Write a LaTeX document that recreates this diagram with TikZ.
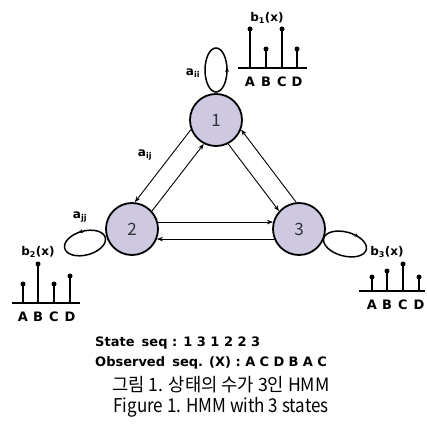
\documentclass[tikz,border=0pt]{standalone}
\usepackage{fontspec}
\setmainfont{DejaVu Sans}
\newfontfamily\kr{Noto Sans CJK KR}
\newfontfamily\lb{DejaVu Sans Bold}
\usetikzlibrary{arrows.meta,decorations.markings}
\definecolor{nodefill}{RGB}{206,200,224}
\definecolor{numcol}{RGB}{50,50,60}
\tikzset{
  state/.style={circle,draw,line width=1.8pt,fill=nodefill,minimum size=52pt,inner sep=0pt,font=\kr\fontsize{17}{17}\selectfont,text=numcol},
  edge/.style={line width=0.9pt,-{Stealth[length=6pt,width=4.5pt]}},
  loopline/.style={line width=1.5pt},
  lab/.style={font=\lb\fontsize{12}{12}\selectfont,inner sep=0pt},
  barlab/.style={font=\lb\fontsize{13}{13}\selectfont,inner sep=0pt},
  stem/.style={line width=1.1pt},
  base/.style={line width=1.3pt},
  dot/.style={circle,fill=black,inner sep=0pt,minimum size=5pt},
  seqtxt/.style={font=\lb\fontsize{13}{14}\selectfont,inner sep=0pt,anchor=west},
  captxt/.style={font=\kr\fontsize{17}{17}\selectfont,inner sep=0pt}
}
\begin{document}
\begin{tikzpicture}[x=1pt,y=-1pt]
\useasboundingbox (0,0) rectangle (426,427);
% states
\node[state] (n1) at (216,120) {1};
\node[state] (n2) at (132,229) {2};
\node[state] (n3) at (299,229) {3};
% transitions
\draw[edge] (n1.201) -- (n2.84);
\draw[edge] (n2.42) -- (n1.243);
\draw[edge] (n1.297) -- (n3.138);
\draw[edge] (n3.96) -- (n1.339);
\draw[edge] (n2.15) -- (n3.165);
\draw[edge] (n3.202) -- (n2.338);
% self loops
\draw[loopline,decoration={markings,mark=at position 0.02 with {\arrow{Stealth[length=4pt,width=4pt]}}},postaction={decorate}]
  (216,70) ellipse [x radius=11pt,y radius=22pt];
\draw[loopline,rotate around={15:(85,243)},decoration={markings,mark=at position 0.28 with {\arrow{Stealth[length=4pt,width=4pt]}}},postaction={decorate}]
  (85,243) ellipse [x radius=21pt,y radius=12pt];
\draw[loopline,rotate around={-15:(345,244)},decoration={markings,mark=at position 0.15 with {\arrowreversed{Stealth[length=4pt,width=4pt]}}},postaction={decorate}]
  (345,244) ellipse [x radius=22pt,y radius=12pt];
% transition labels
\node[lab] (aii) at (193,73) {a\textsubscript{ii}};
\node[lab] (aij) at (145,155) {a\textsubscript{ij}};
\node[lab] (ajj) at (80,217) {a\textsubscript{jj}};
\node[lab] (b1) at (267,18) {b\textsubscript{1}(x)};
\node[lab] (b2) at (38,252) {b\textsubscript{2}(x)};
\node[lab] (b3) at (387,252) {b\textsubscript{3}(x)};
% bar chart 1
\draw[base] (238,68) -- (307,68);
\foreach \x/\t/\l [count=\i] in {250/29/A,266/49/B,282/29/C,297/49/D}{
  \draw[stem] (\x,68) -- (\x,\t);
  \node[dot] (p1\i) at (\x,\t) {};
  \node[barlab] (l1\i) at (\x,82) {\l};
}
% bar chart 2
\draw[base] (12,303) -- (80,303);
\foreach \x/\t/\l [count=\i] in {23/284/A,38/264/B,54/284/C,70/276/D}{
  \draw[stem] (\x,303) -- (\x,\t);
  \node[dot] (p2\i) at (\x,\t) {};
  \node[barlab] (l2\i) at (\x,317) {\l};
}
% bar chart 3
\draw[base] (359,291) -- (425,291);
\foreach \x/\t/\l [count=\i] in {372/277/A,387/271/B,403/264/C,419/277/D}{
  \draw[stem] (\x,291) -- (\x,\t);
  \node[dot] (p3\i) at (\x,\t) {};
  \node[barlab] (l3\i) at (\x,305) {\l};
}
% sequences
\node[seqtxt] (sseq) at (95,343) {State\hspace{0.55em}seq : 1 3 1 2 2 3};
\node[seqtxt] (oseq) at (95,363) {Observed\hspace{0.55em}seq. (X) : A\,\,C\,\,D\,\,B\,\,A\,\,C};
% caption
\node[captxt] (cap1) at (221,385) {\scalebox{1.04}[1.08]{그림 1. 상태의 수가 3인 HMM}};
\node[captxt] (cap2) at (221,407) {\scalebox{1}[1.12]{Figure 1. HMM with 3 states}};
\end{tikzpicture}
\end{document}
